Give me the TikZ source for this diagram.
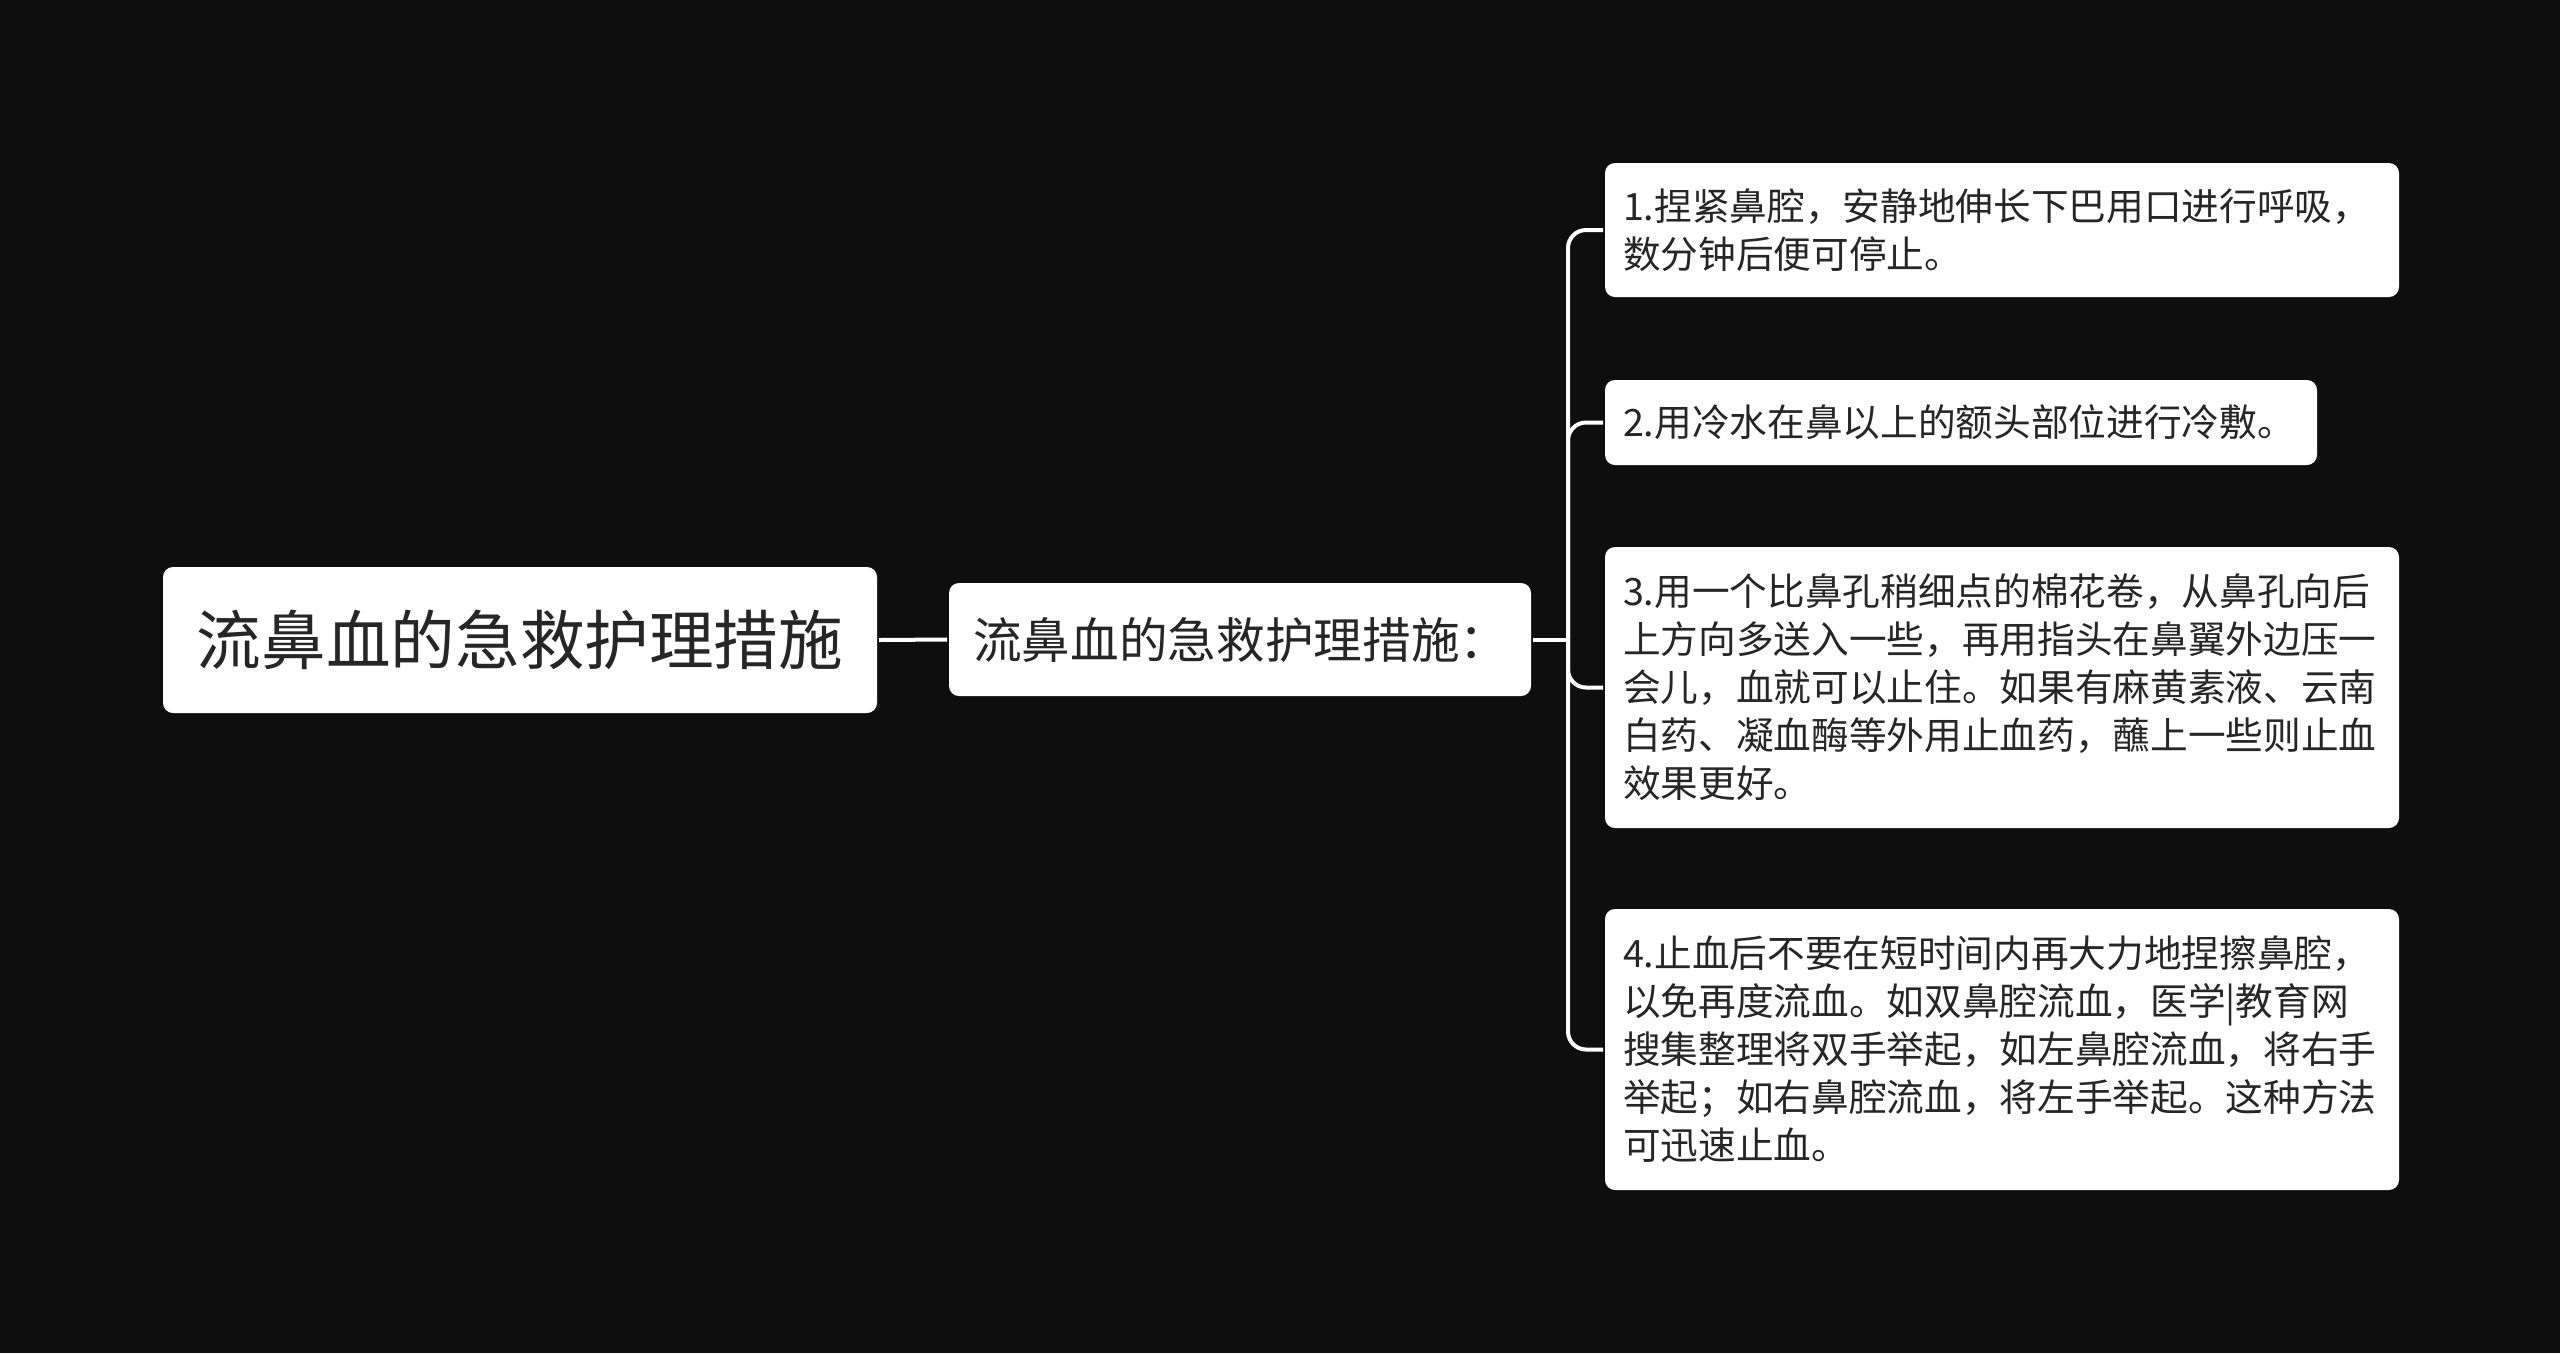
\documentclass[tikz,border=0pt]{standalone}
\usepackage{fontspec}
\setmainfont{Noto Sans CJK SC}
\definecolor{bgcol}{RGB}{14,14,14}
\definecolor{txtcol}{RGB}{38,38,38}

\tikzset{every picture/.style={line width=1.2pt}}
\tikzset{
  box/.style={fill=white, rounded corners=3pt, text=txtcol, inner ysep=0pt},
  leaf/.style={box, anchor=west, inner xsep=5.4pt, align=left, font=\fontsize{11.3}{14.4}\selectfont},
  link/.style={draw=white, line width=1.2pt, rounded corners=5.4pt},
}

\begin{document}
\begin{tikzpicture}[x=0.3pt,y=0.3pt,yscale=-1,xscale=1]
%set diagram left start at 0, and has height of 1353
\fill[bgcol] (0,0) rectangle (2560,1353);
\useasboundingbox (0,0) rectangle (2560,1353);

% Root Node
\node [box, minimum width=214.2pt, minimum height=43.8pt, font=\fontsize{19.4}{22}\selectfont] (root) at (520,640) {流鼻血的急救护理措施};
% Middle Node
\node [box, inner xsep=7.2pt, text width=160.2pt, align=left, minimum height=33.9pt, font=\fontsize{14.6}{17}\selectfont] (mid) at (1240,639.5) {流鼻血的急救护理措施：};

% Leaf Nodes
\node [leaf, text width=227.4pt, minimum height=40.2pt] (c1) at (1603,230) {1.捏紧鼻腔，安静地伸长下巴用口进行呼吸，\\数分钟后便可停止。};
\node [leaf, text width=202.8pt, minimum height=25.5pt] (c2) at (1603,422.5) {2.用冷水在鼻以上的额头部位进行冷敷。};
\node [leaf, text width=227.4pt, minimum height=84.3pt] (c3) at (1603,687.5) {3.用一个比鼻孔稍细点的棉花卷，从鼻孔向后\\上方向多送入一些，再用指头在鼻翼外边压一\\会儿，血就可以止住。如果有麻黄素液、云南\\白药、凝血酶等外用止血药，蘸上一些则止血\\效果更好。};
\node [leaf, text width=227.4pt, minimum height=84.3pt] (c4) at (1603,1049.5) {4.止血后不要在短时间内再大力地捏擦鼻腔，\\以免再度流血。如双鼻腔流血，医学|教育网\\搜集整理将双手举起，如左鼻腔流血，将右手\\举起；如右鼻腔流血，将左手举起。这种方法\\可迅速止血。};

% Connectors
\coordinate (fork) at (1568,639.5);
\draw [link] (root.east) -- (mid.west);
\draw [link] (mid.east) -- (fork);
\draw [link] (fork) |- (c1.west);
\draw [link] (fork) |- (c2.west);
\draw [link] (fork) |- (c3.west);
\draw [link] (fork) |- (c4.west);

\end{tikzpicture}
\end{document}
